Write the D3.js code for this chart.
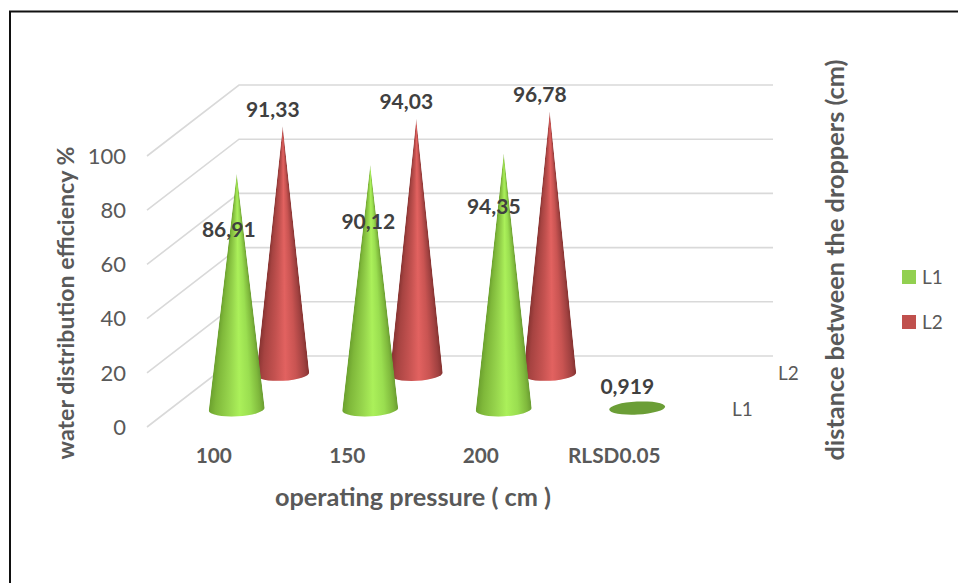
<!DOCTYPE html>
<html><head><meta charset="utf-8">
<script src="https://cdn.jsdelivr.net/npm/d3@7"></script>
<style>
html,body{margin:0;padding:0;background:#fff}
svg{display:block}
text{font-family:Lato,"Open Sans",sans-serif}
</style></head><body><svg id="c" width="958" height="583"></svg>
<script>
const categories = ["100","150","200","RLSD0.05"];
const seriesNames = ["L1","L2"];
const L1 = [86.91,90.12,94.35,0.919];
const L2 = [91.33,94.03,96.78,null];
const L1Labels = ["86,91","90,12","94,35","0,919"];
const L2Labels = ["91,33","94,03","96,78",null];
const yTicks = [0,20,40,60,80,100];
// hand placement of the value labels relative to the top of each cone
const L1LabelNudge = [[-8,56],[-2,57],[-10,53],[-10,-20]];
const L2LabelNudge = [[-10,-17],[-10,-17],[-10,-17],null];

const W=958,H=583;
const svg=d3.select("#c");
const INK="#595959", DARK="#404040", GRID="#d9d9d9";
const depthX=92, depthY=-71;

const x=d3.scaleBand().domain(categories).range([147,681]);
const y=d3.scaleLinear().domain([0,100]).range([427,156]);
const z=d3.scaleBand().domain(seriesNames).range([0,1]);
const zMid=s=>z(s)+z.bandwidth()/2;
const px=(c,s)=>x(c)+x.bandwidth()/2+zMid(s)*depthX;
const py=(v,s)=>y(v)+zMid(s)*depthY;

// page frame (top and left edges only)
svg.append("path").attr("d",`M${W},11.5H10V${H}`).attr("fill","none").attr("stroke","#111").attr("stroke-width",2);

// walls
const grid=svg.append("g").attr("fill","none").attr("stroke",GRID).attr("stroke-width",1.6);
yTicks.forEach(t=>{
  grid.append("path").attr("d",`M${x.range()[0]},${y(t)}L${x.range()[0]+depthX},${y(t)+depthY}H${x.range()[1]+depthX}`);
});

// axes
const yAxis=svg.append("g").attr("transform","translate(126,0)")
  .call(d3.axisLeft(y).tickValues(yTicks).tickSize(0).tickPadding(0));
yAxis.select(".domain").remove();
yAxis.selectAll("text").attr("font-family","Lato").attr("font-size",22).attr("fill",INK).attr("dy","0.33em");

const xAxis=svg.append("g").attr("transform","translate(0,456)")
  .call(d3.axisBottom(x).tickSize(0).tickPadding(0));
xAxis.select(".domain").remove();
xAxis.selectAll("text").attr("font-family","Lato").attr("font-size",20.8).attr("font-weight",700).attr("fill",INK).attr("dy","0.34em").attr("y",0);

// depth axis labels
svg.append("g").selectAll("text").data(seriesNames).join("text")
  .attr("x",s=>x.range()[1]+zMid(s)*depthX+28)
  .attr("y",s=>y(0)+zMid(s)*depthY)
  .attr("dy","0.34em").attr("font-size",19).attr("fill",INK).text(s=>s);

// shading of the cones
const stops={
 L1:[[0,"#6ba02e"],[.12,"#7fb83a"],[.35,"#96d44c"],[.55,"#abf05a"],[.75,"#9ade50"],[.92,"#7fb83c"],[1,"#6a9c32"]],
 L2:[[0,"#863331"],[.12,"#a64341"],[.35,"#c45250"],[.55,"#e26260"],[.75,"#c95452"],[.92,"#a04140"],[1,"#853331"]]
};
const defs=svg.append("defs");
seriesNames.forEach(s=>{
  defs.append("linearGradient").attr("id","shade"+s)
    .selectAll("stop").data(stops[s]).join("stop")
    .attr("offset",d=>d[0]).attr("stop-color",d=>d[1]);
});

// cones
const TILT=-3, RX={L1:28,L2:26.5}, RY=7;
const coneLayer=svg.append("g");
function cone(s,c,v,i){
  if(v==null) return;
  const cx=px(c,s), by=py(0,s), ay=py(v,s), rx=RX[s];
  if(v<5){
    coneLayer.append("ellipse").attr("cx",cx).attr("cy",by-1.2).attr("rx",rx).attr("ry",6.5)
      .attr("transform",`rotate(${TILT} ${cx} ${by})`).attr("fill","#6b9e36");
    return;
  }
  const t=TILT*Math.PI/180;
  const lx=cx-rx*Math.cos(t), ly=by-rx*Math.sin(t), rxp=cx+rx*Math.cos(t), ryp=by+rx*Math.sin(t);
  const outline=`M${cx},${ay}L${rxp},${ryp}A${rx},${RY} ${TILT} 0 1 ${lx},${ly}Z`;
  const id=`clip${s}${i}`;
  defs.append("clipPath").attr("id",id).append("path").attr("d",outline);
  const g=coneLayer.append("g").attr("clip-path",`url(#${id})`);
  // one row per pixel, each carrying the full gradient, so the shading converges on the apex
  const rows=d3.range(Math.floor(ay),Math.ceil(by+RY+3));
  g.selectAll("rect").data(rows).join("rect")
    .attr("x",r=>{const w=rx*Math.min(1,Math.max(0.01,(r+.5-ay)/(by-ay)));return cx-w;})
    .attr("width",r=>2*rx*Math.min(1,Math.max(0.01,(r+.5-ay)/(by-ay))))
    .attr("y",r=>r).attr("height",1.2)
    .attr("fill",`url(#shade${s})`);
}
categories.forEach((c,i)=>cone("L2",c,L2[i],i));
categories.forEach((c,i)=>cone("L1",c,L1[i],i));

// value labels
const lab=svg.append("g").attr("font-size",21).attr("font-weight",700).attr("fill",DARK).attr("text-anchor","middle");
function labels(s,vals,txt,nudge){
  categories.forEach((c,i)=>{
    if(vals[i]==null) return;
    lab.append("text").attr("x",px(c,s)+nudge[i][0]).attr("y",py(vals[i],s)+nudge[i][1])
      .attr("dy","0.35em").text(txt[i]);
  });
}
labels("L2",L2,L2Labels,L2LabelNudge);
labels("L1",L1,L1Labels,L1LabelNudge);

// axis titles
const title=(t,xx,yy,r,size)=>svg.append("text").attr("transform",`translate(${xx},${yy}) rotate(${r})`)
  .attr("text-anchor","middle").attr("dy","0.35em").attr("font-size",size).attr("font-weight",700).attr("fill",INK).text(t);
title("water distribution efficiency %",66,303,-90,23.1);
title("distance between the droppers (cm)",835,260,-90,25.3);
title("operating pressure ( cm )",413,497,0,25.3);

// legend
const leg=svg.append("g").selectAll("g").data(seriesNames).join("g")
  .attr("transform",(d,i)=>`translate(902,${270+i*45})`);
leg.append("rect").attr("width",14).attr("height",14).attr("fill",d=>d==="L1"?"#92d050":"#c0504d");
leg.append("text").attr("x",20).attr("y",7).attr("dy","0.35em").attr("font-size",19).attr("fill",INK).text(d=>d);
</script></body></html>
